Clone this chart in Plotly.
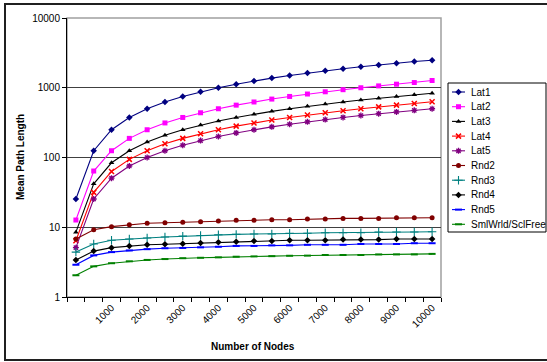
import plotly.graph_objects as go

# ---------------- data ----------------
nodes = [100, 500, 1000, 1500, 2000, 2500, 3000, 3500, 4000, 4500, 5000,
         5500, 6000, 6500, 7000, 7500, 8000, 8500, 9000, 9500, 10000]
x_tick_labels = ["1000", "2000", "3000", "4000", "5000", "6000", "7000", "8000", "9000", "10000"]
y_tick_vals = [1, 10, 100, 1000, 10000]

lat1 = [25.4, 125, 250, 375, 500, 625, 750, 875, 1000, 1125, 1250, 1375, 1500, 1625, 1750, 1875, 2000, 2125, 2250, 2375, 2480]
lat2 = [12.7, 64, 125, 188, 250, 313, 375, 438, 500, 563, 625, 688, 750, 813, 875, 938, 1000, 1063, 1125, 1188, 1270]
lat3 = [8.5, 42, 84, 125, 167, 209, 250, 292, 334, 375, 417, 459, 500, 542, 584, 625, 667, 709, 750, 792, 832]
lat4 = [6.4, 31.6, 63, 94, 125, 157, 188, 219, 250, 282, 313, 344, 375, 407, 438, 469, 500, 532, 563, 594, 630]
lat5 = [5.1, 25.4, 50.5, 75.5, 100, 125, 150, 175, 200, 225, 250, 275, 300, 325, 350, 375, 400, 425, 450, 475, 500]
rnd2 = [6.8, 9.2, 10.2, 10.9, 11.4, 11.6, 11.8, 12.0, 12.3, 12.6, 12.6, 12.8, 12.8, 13.1, 13.1, 13.4, 13.4, 13.4, 13.7, 13.7, 13.7]
rnd3 = [4.4, 5.75, 6.5, 6.8, 7.0, 7.25, 7.45, 7.6, 7.8, 7.9, 8.0, 8.0, 8.2, 8.2, 8.35, 8.35, 8.35, 8.55, 8.55, 8.55, 8.6]
rnd4 = [3.4, 4.55, 5.1, 5.4, 5.6, 5.7, 5.8, 5.95, 6.1, 6.2, 6.35, 6.35, 6.5, 6.5, 6.5, 6.65, 6.65, 6.65, 6.8, 6.8, 6.8]
rnd5 = [2.9, 3.95, 4.4, 4.65, 4.85, 5.0, 5.05, 5.15, 5.25, 5.4, 5.4, 5.5, 5.5, 5.6, 5.6, 5.6, 5.75, 5.75, 5.75, 5.9, 5.9]
smlwrld = [2.05, 2.75, 3.05, 3.25, 3.4, 3.5, 3.6, 3.65, 3.7, 3.78, 3.82, 3.85, 3.9, 3.92, 4.0, 4.0, 4.0, 4.08, 4.08, 4.08, 4.15]

series_names = ["Lat1", "Lat2", "Lat3", "Lat4", "Lat5", "Rnd2", "Rnd3", "Rnd4", "Rnd5", "SmlWrld/SclFree"]
series_values = [lat1, lat2, lat3, lat4, lat5, rnd2, rnd3, rnd4, rnd5, smlwrld]

# ---------------- styles ----------------
colors = ["#000080", "#FF00FF", "#000000", "#FF0000", "#800080",
          "#800000", "#008080", "#000000", "#0000FF", "#008000"]
symbols = ["diamond", "square", "triangle-up", "x-thin", "asterisk",
           "circle", "cross-thin", "diamond", "line-ew", "line-ew"]
sizes = [5, 5, 5, 5, 5, 5, 6, 5, 5, 5]
mline = [0, 0, 0, 1.5, 1.3, 0, 1.1, 0, 2, 2]

W, H = 547, 362
PL, PR, PT, PB = 67, 441, 18, 297           # plot area in px
FONT = "Arial, Liberation Sans, sans-serif"

def px_x(p):
    return p / W

def px_y(p):
    return (H - p) / H

x_idx = list(range(len(nodes)))

fig = go.Figure()

for name, vals, c, s, sz, ml in zip(series_names, series_values, colors, symbols, sizes, mline):
    fig.add_trace(go.Scatter(
        x=x_idx, y=vals, mode="lines+markers", name=name,
        line=dict(color=c, width=1.1),
        marker=dict(symbol=s, size=sz, color=c, line=dict(color=c, width=ml)),
        showlegend=False, xaxis="x", yaxis="y"))

# ---------------- custom legend (Excel style) ----------------
LEG_L, LEG_R, LEG_T, LEG_B = 448, 546, 83, 232
row0, row_step = 92, 14.7
for i, (name, c, s, sz, ml) in enumerate(zip(series_names, colors, symbols, sizes, mline)):
    fig.add_trace(go.Scatter(x=[452, 465], y=[i, i], mode="lines",
                             line=dict(color=c, width=1.1), showlegend=False,
                             hoverinfo="skip", xaxis="x2", yaxis="y2"))
    fig.add_trace(go.Scatter(x=[458.5], y=[i], mode="markers",
                             marker=dict(symbol=s, size=sz, color=c, line=dict(color=c, width=ml)),
                             showlegend=False, hoverinfo="skip", xaxis="x2", yaxis="y2"))
    fig.add_annotation(x=469.5, y=i, xref="x2", yref="y2", text=name, showarrow=False,
                       xanchor="left", yanchor="middle", borderpad=0,
                       font=dict(family=FONT, size=10, color="black"))

fig.update_layout(
    width=W, height=H,
    margin=dict(l=0, r=0, t=0, b=0),
    paper_bgcolor="white", plot_bgcolor="white",
    font=dict(family=FONT, size=10, color="black"),
    hovermode=False,
    xaxis=dict(
        domain=[px_x(PL), px_x(PR)], range=[-0.5, len(nodes) - 0.5],
        tickmode="array",
        tickvals=[nodes.index(int(t)) for t in x_tick_labels],
        ticktext=x_tick_labels, tickangle=-45, ticks="",
        showgrid=False, zeroline=False, automargin=False,
        showline=True, linecolor="black", linewidth=1,
        tickfont=dict(family=FONT, size=10, color="black"),
        minor=dict(ticks="outside", tick0=-0.5, dtick=1, ticklen=4,
                   tickcolor="black", tickwidth=1, showgrid=False),
        anchor="y",
    ),
    yaxis=dict(
        domain=[px_y(PB), px_y(PT)], type="log", range=[0, 4],
        tickmode="array", tickvals=y_tick_vals,
        ticktext=[str(v) for v in y_tick_vals],
        ticks="outside", ticklen=4, tickcolor="black",
        showgrid=True, gridcolor="#404040", gridwidth=1,
        zeroline=False, showline=True, linecolor="black", linewidth=1,
        automargin=False,
        tickfont=dict(family=FONT, size=10, color="black"),
        anchor="x",
    ),
    xaxis2=dict(domain=[px_x(LEG_L), px_x(LEG_R)], range=[LEG_L, LEG_R],
                visible=False, fixedrange=True, anchor="y2"),
    yaxis2=dict(domain=[px_y(LEG_B), px_y(LEG_T)],
                range=[(LEG_B - row0) / row_step, (LEG_T - row0) / row_step],
                visible=False, fixedrange=True, anchor="x2"),
    shapes=[
        dict(type="rect", xref="paper", yref="paper", x0=px_x(PL), x1=px_x(PR),
             y0=px_y(PB), y1=px_y(PT), line=dict(color="#a0a0a0", width=1.5), layer="below"),
        dict(type="rect", xref="paper", yref="paper", x0=px_x(LEG_L), x1=px_x(LEG_R),
             y0=px_y(LEG_B), y1=px_y(LEG_T), line=dict(color="black", width=1)),
        dict(type="rect", xref="paper", yref="paper", x0=px_x(5), x1=px_x(560),
             y0=px_y(360), y1=px_y(4), line=dict(color="#202020", width=2)),
    ],
    annotations=list(fig.layout.annotations) + [
        dict(text="<b>Number of Nodes</b>", x=px_x(253), y=px_y(346), xref="paper", yref="paper",
             showarrow=False, xanchor="center", yanchor="middle",
             font=dict(family=FONT, size=10, color="black")),
        dict(text="<b>Mean Path Length</b>", x=px_x(21), y=px_y(157), xref="paper", yref="paper",
             showarrow=False, xanchor="center", yanchor="middle", textangle=-90,
             font=dict(family=FONT, size=10, color="black")),
    ],
)

fig.write_html("out.html", config={"displayModeBar": False, "staticPlot": True},
               post_script="document.body.style.margin='0';document.body.style.padding='0';")
